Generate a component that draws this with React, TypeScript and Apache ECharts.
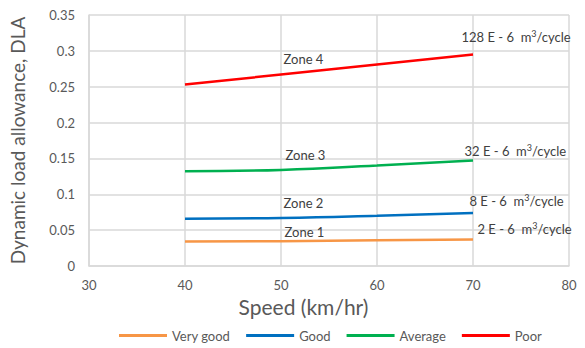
import React, { useEffect, useRef } from "react";
import * as echarts from "echarts";

const speeds = [40, 50, 60, 70];
const veryGood = [0.034, 0.0345, 0.036, 0.037];
const good = [0.066, 0.067, 0.07, 0.074];
const average = [0.132, 0.134, 0.14, 0.147];
const poor = [0.253, 0.267, 0.281, 0.295];
const seriesNames = ["Very good", "Good", "Average", "Poor"];
const zoneLabels = ["Zone 1", "Zone 2", "Zone 3", "Zone 4"];
const volumeLabels = ["2", "8", "32", "128"];
const colors = ["#F79646", "#0070C0", "#00B050", "#FF0000"];

const zoneOffsets: [number, number][] = [[3, -9], [2, -15], [4, -15], [2, -16]];
const volOffsets: [number, number][] = [[4, -10], [-4, -12], [-9, -10], [-12, -17]];

const FONT = "Lato, 'Open Sans', sans-serif";

export default function App() {
  const ref = useRef<HTMLDivElement>(null);
  useEffect(() => {
    if (!ref.current) return;
    const chart = echarts.init(ref.current, undefined, { renderer: "svg" });
    const all = [veryGood, good, average, poor];
    const series = all.map((vals, i) => ({
      name: seriesNames[i],
      type: "line",
      smooth: true,
      showSymbol: false,
      symbol: "none",
      lineStyle: { color: colors[i], width: 2.5 },
      itemStyle: { color: colors[i] },
      data: speeds.map((s, j) => [s, vals[j]]),
      markPoint: {
        symbol: "circle",
        symbolSize: 1,
        itemStyle: { color: "rgba(0,0,0,0)" },
        silent: true,
        data: [
          {
            coord: [speeds[1], vals[1]],
            label: {
              show: true,
              position: "right",
              distance: 0,
              offset: zoneOffsets[i],
              formatter: zoneLabels[i],
              color: "#404040",
              fontSize: 13,
              fontFamily: FONT,
            },
          },
          {
            coord: [speeds[3], vals[3]],
            label: {
              show: true,
              position: "right",
              distance: 0,
              offset: volOffsets[i],
              formatter: `{a|${volumeLabels[i]} E - 6  m}{s|3}{a|/cycle}`,
              rich: {
                a: { color: "#404040", fontSize: 13, fontFamily: FONT },
                s: { color: "#404040", fontSize: 9, fontFamily: FONT, padding: [0, 0, 7, 0] },
              },
            },
          },
        ],
      },
    }));
    chart.setOption({
      animation: false,
      backgroundColor: "#fff",
      grid: { left: 86, right: 16, top: 15, bottom: 82, containLabel: false },
      legend: {
        bottom: 1,
        left: 114,
        icon: "rect",
        itemWidth: 48,
        itemHeight: 3,
        itemGap: 16,
        textStyle: { color: "#595959", fontSize: 13, fontFamily: FONT },
        data: seriesNames,
      },
      xAxis: {
        type: "value",
        min: 30,
        max: 80,
        interval: 10,
        name: "Speed (km/hr)",
        nameLocation: "middle",
        nameGap: 30,
        nameTextStyle: { color: "#595959", fontSize: 21, fontFamily: FONT, padding: [0, 51, 0, 0] },
        axisLine: { show: true, lineStyle: { color: "#d9d9d9", width: 1.5 } },
        axisTick: { show: false },
        axisLabel: { color: "#595959", fontSize: 13, margin: 12, fontFamily: FONT },
        splitLine: { show: true, lineStyle: { color: "#d9d9d9", width: 1.5 } },
      },
      yAxis: {
        type: "value",
        min: 0,
        max: 0.35,
        interval: 0.05,
        name: "Dynamic load allowance, DLA",
        nameLocation: "middle",
        nameGap: 62,
        nameTextStyle: { color: "#595959", fontSize: 19, fontFamily: FONT },
        axisLine: { show: true, lineStyle: { color: "#d9d9d9", width: 1.5 } },
        axisTick: { show: false },
        axisLabel: { color: "#595959", fontSize: 13, margin: 14, fontFamily: FONT },
        splitLine: { show: true, lineStyle: { color: "#d9d9d9", width: 1.5 } },
      },
      series,
    });
    return () => chart.dispose();
  }, []);
  return (
    <div
      ref={ref}
      style={{ position: "fixed", left: 0, top: 0, width: 585, height: 348 }}
    />
  );
}
